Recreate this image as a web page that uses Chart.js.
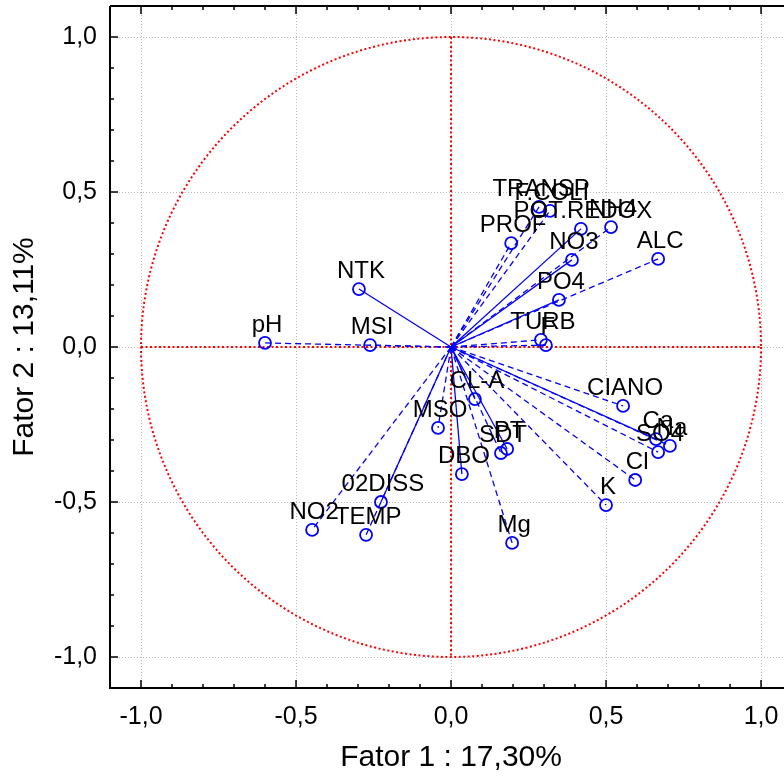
<!DOCTYPE html>
<html>
<head>
<meta charset="utf-8">
<script src="https://cdn.jsdelivr.net/npm/chart.js@4/dist/chart.umd.min.js"></script>
<style>
  html, body { margin: 0; padding: 0; background: #fff; overflow: hidden; }
  #wrap { width: 784px; height: 776px; }
</style>
</head>
<body>
<div id="wrap"><canvas id="c" width="784" height="776"></canvas></div>
<script>
// variáveis e cargas nos fatores 1 e 2
const variables = ['pH', 'MSI', 'NTK', 'TRANSP', 'F.COLI', 'POT.REDOX', 'NH4', 'PROF', 'NO3', 'ALC',
  'PO4', 'TURB', 'F', 'CIANO', 'Ca', 'Na', 'SO4', 'Cl', 'K', 'CL-A',
  'MSO', 'SDT', 'PT', 'DBO', '02DISS', 'NO2', 'TEMP', 'Mg'];
const fator1 = [-0.600, -0.261, -0.297, 0.284, 0.319, 0.419, 0.516, 0.194, 0.390, 0.668,
  0.348, 0.290, 0.306, 0.555, 0.661, 0.706, 0.668, 0.594, 0.500, 0.077,
  -0.042, 0.161, 0.181, 0.035, -0.226, -0.448, -0.274, 0.197];
const fator2 = [0.013, 0.006, 0.187, 0.452, 0.439, 0.381, 0.387, 0.335, 0.281, 0.284,
  0.152, 0.023, 0.006, -0.190, -0.297, -0.319, -0.339, -0.429, -0.510, -0.168,
  -0.261, -0.342, -0.329, -0.410, -0.500, -0.590, -0.606, -0.632];

// rótulos dos eixos
const tickValues = [-1, -0.5, 0, 0.5, 1];
const tickLabels = ['-1,0', '-0,5', '0,0', '0,5', '1,0'];
const xTitle = 'Fator 1 : 17,30%';
const yTitle = 'Fator 2 : 13,11%';

// linhas desenhadas contínuas (o resto tracejado)
const solidLines = ['NTK', 'POT.REDOX', 'NO3', 'PO4', 'CL-A', 'DBO', 'PT', 'Ca', '02DISS'];

const BLUE = '#0000ff';
const RED = '#ff0000';
const FONT = '"Liberation Sans", Arial, sans-serif';

// um dataset de linha por variável (origem -> ponto)
const lineSets = variables.map((v, i) => ({
  type: 'line',
  data: [{ x: 0, y: 0 }, { x: fator1[i], y: fator2[i] }],
  borderColor: BLUE,
  borderWidth: 1.3,
  borderDash: solidLines.includes(v) ? [] : [6, 4],
  pointRadius: 0,
  fill: false,
  order: 2
}));

const pointSet = {
  type: 'scatter',
  data: variables.map((v, i) => ({ x: fator1[i], y: fator2[i] })),
  pointStyle: 'circle',
  pointRadius: 6,
  borderWidth: 1.8,
  borderColor: BLUE,
  backgroundColor: 'rgba(0,0,0,0)',
  order: 1
};

// círculo unitário, eixos vermelhos, moldura, marcas e textos
const decor = {
  id: 'decor',
  beforeDatasetsDraw(chart) {
    const { ctx, scales: { x, y } } = chart;
    const x0 = x.getPixelForValue(0), y0 = y.getPixelForValue(0);
    const rx = x.getPixelForValue(1) - x0, ry = y0 - y.getPixelForValue(1);
    ctx.save();
    ctx.strokeStyle = RED;
    ctx.lineWidth = 2;
    ctx.setLineDash([2, 2.5]);
    ctx.beginPath();
    ctx.ellipse(x0, y0, rx, ry, 0, 0, Math.PI * 2);
    ctx.stroke();
    ctx.beginPath();
    ctx.moveTo(x.getPixelForValue(-1), y0);
    ctx.lineTo(x.getPixelForValue(1), y0);
    ctx.moveTo(x0, y.getPixelForValue(1));
    ctx.lineTo(x0, y.getPixelForValue(-1));
    ctx.stroke();
    ctx.restore();
  },
  afterDatasetsDraw(chart) {
    const { ctx, chartArea: a, scales: { x, y } } = chart;
    ctx.save();
    // rótulos das variáveis
    ctx.fillStyle = '#000';
    ctx.font = '24px ' + FONT;
    ctx.textAlign = 'center';
    ctx.textBaseline = 'alphabetic';
    variables.forEach((v, i) => {
      ctx.fillText(v, x.getPixelForValue(fator1[i]) + 2, y.getPixelForValue(fator2[i]) - 11);
    });
    // moldura
    ctx.strokeStyle = '#000';
    ctx.lineWidth = 2;
    ctx.beginPath();
    ctx.moveTo(a.left, a.top);
    ctx.lineTo(a.left, a.bottom);
    ctx.lineTo(a.right + 2, a.bottom);
    ctx.moveTo(a.left, a.top);
    ctx.lineTo(a.right + 2, a.top);
    ctx.stroke();
    // marcas internas
    ctx.lineWidth = 1.5;
    ctx.beginPath();
    for (let k = -11; k <= 11; k++) {
      const v = k / 10;
      const major = k % 5 === 0;
      const px = x.getPixelForValue(v);
      if (px > a.left + 1 && px < a.right) {
        const len = major ? 8 : 4;
        ctx.moveTo(px, a.bottom); ctx.lineTo(px, a.bottom - len);
        ctx.moveTo(px, a.top); ctx.lineTo(px, a.top + len);
      }
      const py = y.getPixelForValue(v);
      if (py > a.top + 1 && py < a.bottom - 1) {
        const len = major ? 8 : 4;
        ctx.moveTo(a.left, py); ctx.lineTo(a.left + len, py);
      }
    }
    ctx.stroke();
    // títulos dos eixos
    ctx.font = '30px ' + FONT;
    ctx.textBaseline = 'middle';
    ctx.fillText(xTitle, x.getPixelForValue(0), 758);
    ctx.translate(25, y.getPixelForValue(0));
    ctx.rotate(-Math.PI / 2);
    ctx.fillText(yTitle, 0, 0);
    ctx.restore();
  }
};

const fixTicks = scale => {
  scale.ticks = tickValues.map(v => ({ value: v }));
};
const tickLabel = v => {
  const i = tickValues.findIndex(t => Math.abs(t - v) < 1e-9);
  return i >= 0 ? tickLabels[i] : '';
};

new Chart(document.getElementById('c'), {
  data: { datasets: [...lineSets, pointSet] },
  options: {
    responsive: false,
    animation: false,
    layout: { autoPadding: false, padding: { top: 6, right: 0, left: 0, bottom: 0 } },
    plugins: { legend: { display: false }, tooltip: { enabled: false } },
    scales: {
      x: {
        type: 'linear',
        min: -1.1,
        max: 1.074,
        afterBuildTicks: fixTicks,
        afterFit: s => { s.height = 88; s.paddingLeft = 0; s.paddingRight = 0; },
        grid: { color: '#b8b8b8', lineWidth: 1, drawTicks: false },
        border: { display: false, dash: [1, 2] },
        ticks: { callback: tickLabel, padding: 14, color: '#000', font: { size: 25, family: FONT }, maxRotation: 0 }
      },
      y: {
        type: 'linear',
        min: -1.1,
        max: 1.1,
        afterBuildTicks: fixTicks,
        afterFit: s => { s.width = 110; s.paddingTop = 0; s.paddingBottom = 0; },
        grid: { color: '#b8b8b8', lineWidth: 1, drawTicks: false },
        border: { display: false, dash: [1, 2] },
        ticks: { callback: tickLabel, padding: 13, color: '#000', font: { size: 25, family: FONT } }
      }
    }
  },
  plugins: [decor]
});
</script>
</body>
</html>
